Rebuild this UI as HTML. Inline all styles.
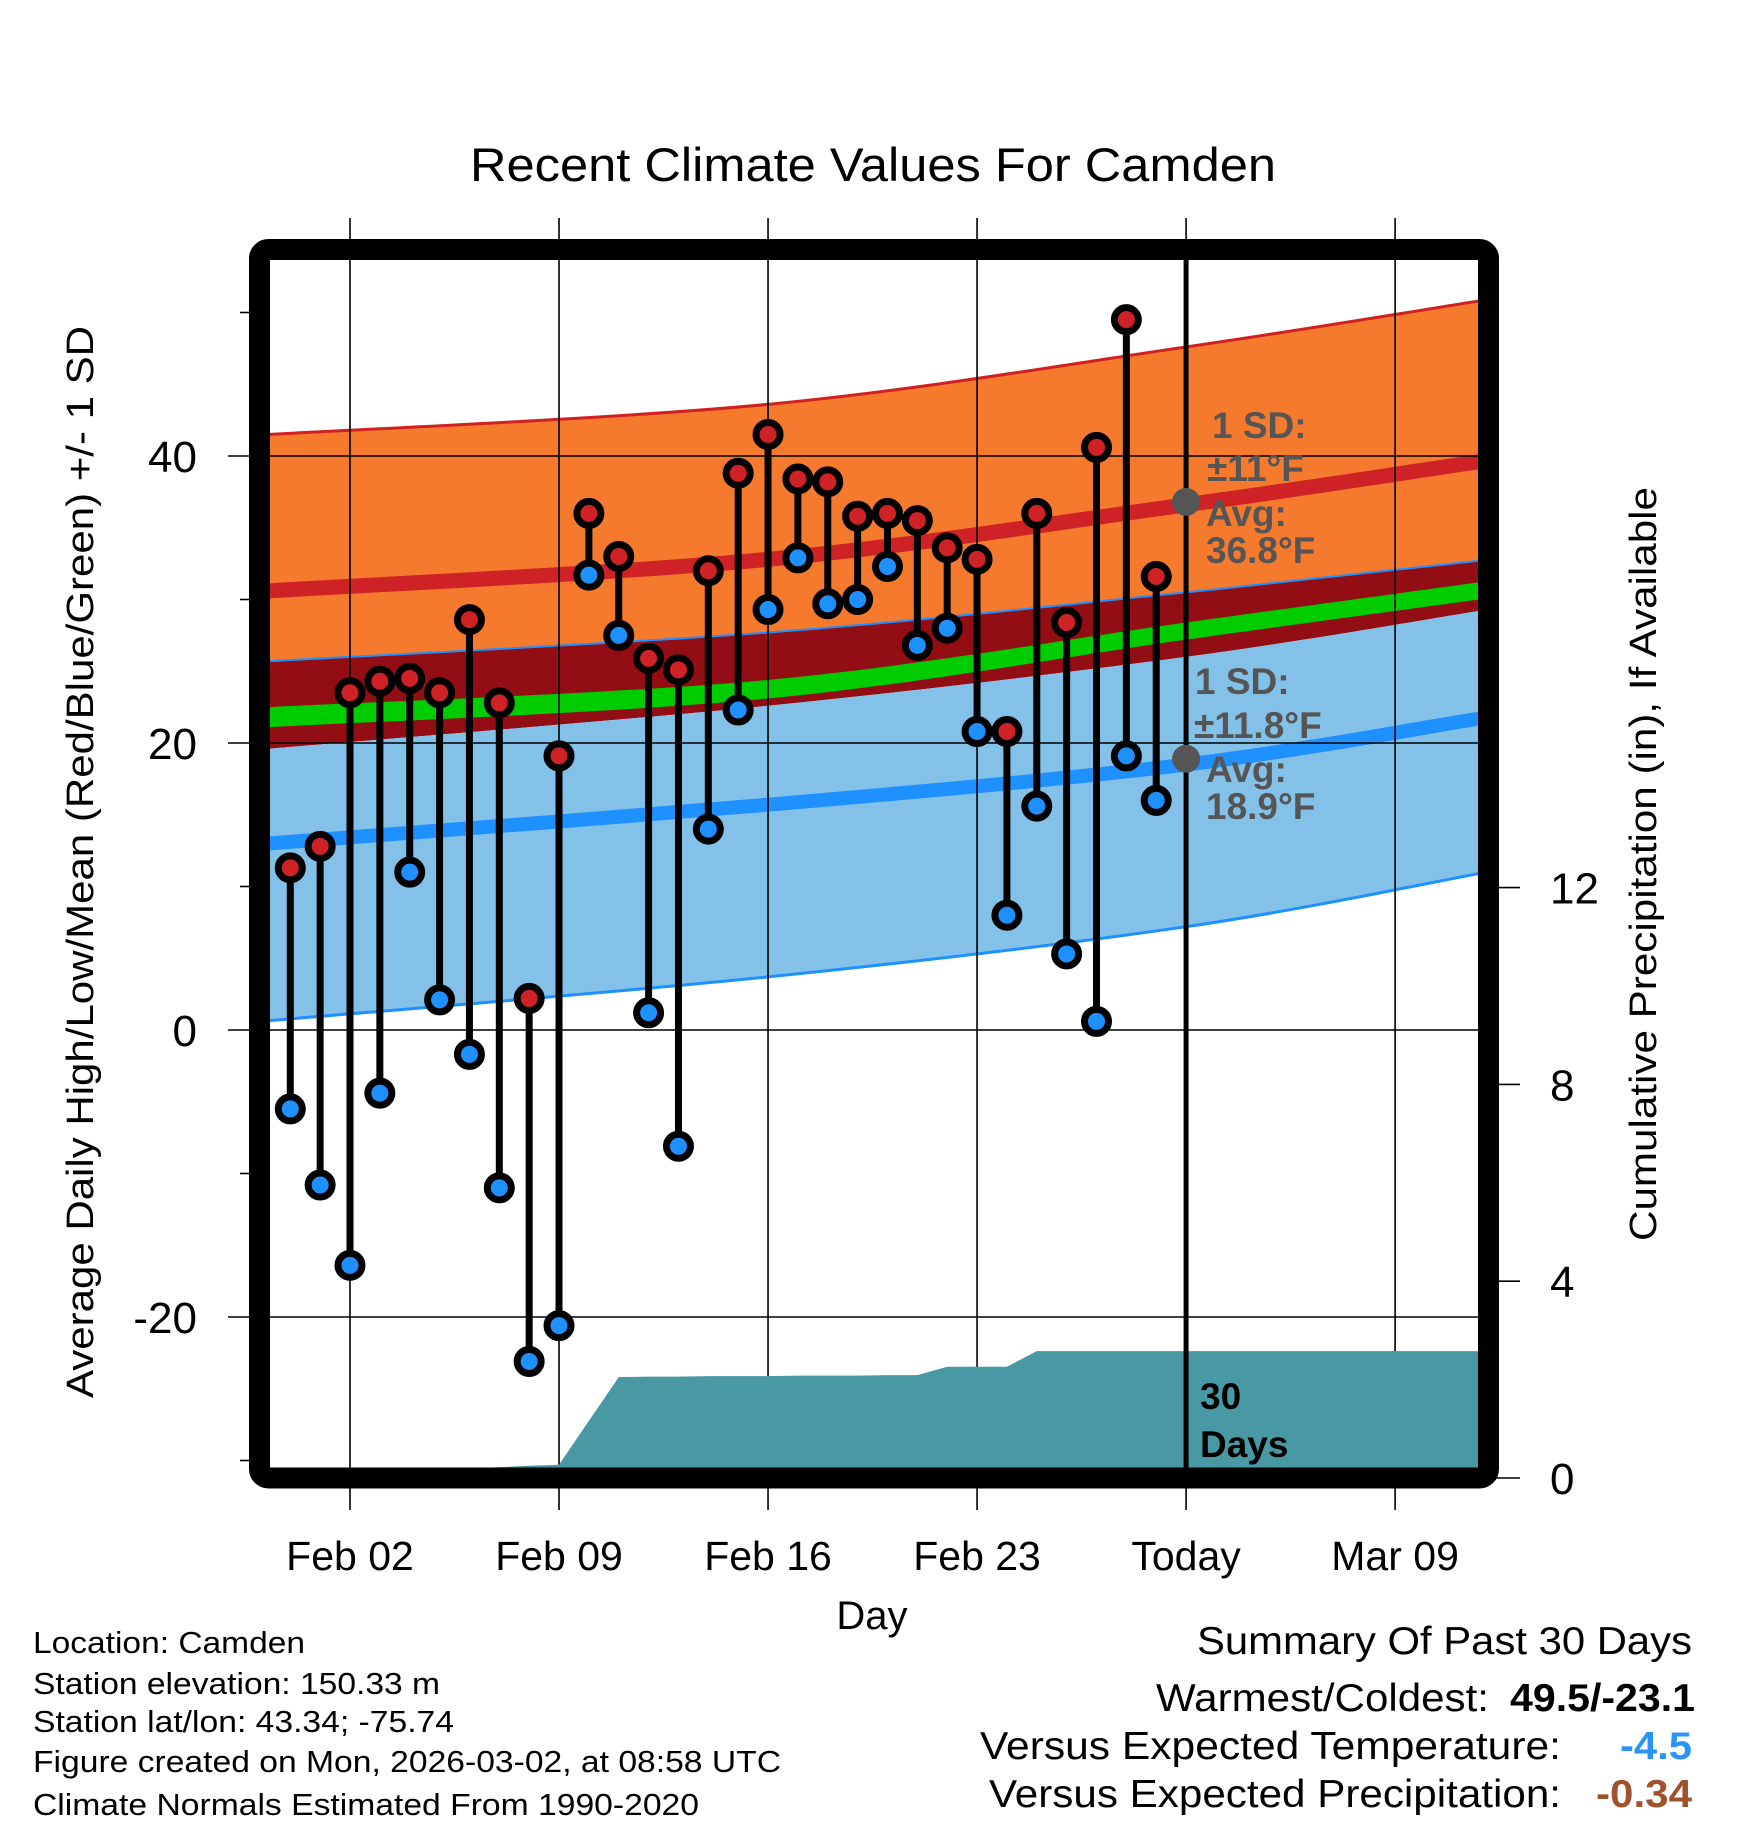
<!DOCTYPE html>
<html><head><meta charset="utf-8"><style>
html,body{margin:0;padding:0;background:#fff;}
svg{display:block;font-family:"Liberation Sans",Arial,sans-serif;}
</style></head><body>
<svg id="chart" width="1748" height="1828" viewBox="0 0 1748 1828" xmlns="http://www.w3.org/2000/svg">
<defs><clipPath id="plotclip"><rect x="270" y="260" width="1208" height="1208"/></clipPath></defs>
<rect x="0" y="0" width="1748" height="1828" fill="#fff"/>
<text x="873" y="181" font-size="47" text-anchor="middle" textLength="806" lengthAdjust="spacingAndGlyphs">Recent Climate Values For Camden</text>
<g id="bands" clip-path="url(#plotclip)"></g>
<g id="grid"></g>
<g id="marks" clip-path="url(#plotclip)"></g>
<g id="axes"></g>
<text transform="translate(93,862) rotate(-90)" font-size="38" text-anchor="middle" textLength="1072" lengthAdjust="spacingAndGlyphs">Average Daily High/Low/Mean (Red/Blue/Green) +/- 1 SD</text>
<text transform="translate(1656,864) rotate(-90)" font-size="38" text-anchor="middle" textLength="754" lengthAdjust="spacingAndGlyphs">Cumulative Precipitation (in), If Available</text>
<text x="872" y="1629" font-size="40" text-anchor="middle">Day</text>
<g font-size="31">
<text x="33" y="1653" textLength="272" lengthAdjust="spacingAndGlyphs">Location: Camden</text>
<text x="33" y="1694" textLength="407" lengthAdjust="spacingAndGlyphs">Station elevation: 150.33 m</text>
<text x="33" y="1732" textLength="421" lengthAdjust="spacingAndGlyphs">Station lat/lon: 43.34; -75.74</text>
<text x="33" y="1772" textLength="748" lengthAdjust="spacingAndGlyphs">Figure created on Mon, 2026-03-02, at 08:58 UTC</text>
<text x="33" y="1815" textLength="666" lengthAdjust="spacingAndGlyphs">Climate Normals Estimated From 1990-2020</text>
</g>
<g font-size="39">
<text x="1197" y="1654" textLength="495" lengthAdjust="spacingAndGlyphs">Summary Of Past 30 Days</text>
<text x="1156" y="1711" textLength="333" lengthAdjust="spacingAndGlyphs">Warmest/Coldest:</text>
<text x="1510" y="1711" font-weight="bold" textLength="185" lengthAdjust="spacingAndGlyphs">49.5/-23.1</text>
<text x="980" y="1759" textLength="581" lengthAdjust="spacingAndGlyphs">Versus Expected Temperature:</text>
<text x="1620" y="1759" font-weight="bold" fill="#2a93f5" textLength="72" lengthAdjust="spacingAndGlyphs">-4.5</text>
<text x="989" y="1807" textLength="572" lengthAdjust="spacingAndGlyphs">Versus Expected Precipitation:</text>
<text x="1596" y="1807" font-weight="bold" fill="#a0522d" textLength="96" lengthAdjust="spacingAndGlyphs">-0.34</text>
</g>
</svg>
<script>
// ---- data ----
const dayLabels = ["Feb 02","Feb 09","Feb 16","Feb 23","Today","Mar 09"];
const dayLabelPos = [0,7,14,21,28,35];
const obsDays = [-2,-1,0,1,2,3,4,5,6,7,8,9,10,11,12,13,14,15,16,17,18,19,20,21,22,23,24,25,26,27];
const highs = [11.3,12.8,23.5,24.3,24.5,23.5,28.6,22.8,2.2,19.1,36.0,33.0,25.9,25.1,32.0,38.8,41.5,38.4,38.2,35.8,36.0,35.5,33.6,32.8,20.8,36.0,28.4,40.6,49.5,31.6];
const lows = [-5.5,-10.8,-16.4,-4.4,11.0,2.1,-1.7,-11.0,-23.1,-20.6,31.7,27.5,1.2,-8.1,14.0,22.3,29.3,32.9,29.7,30.0,32.3,26.8,28.0,20.8,8.0,15.6,5.3,0.6,19.1,16.0];
const precip = [0,0,0,0,0,0,0.19,0.22,0.25,0.27,1.16,2.05,2.06,2.06,2.07,2.07,2.07,2.08,2.08,2.08,2.09,2.09,2.26,2.26,2.26,2.58,2.58,2.58,2.58,2.58];
const normDays = [-2.7,14,28,37.8];
const highUpper = [41.5,43.6,47.6,50.8];
const highMean = [30.6,32.8,36.6,39.6];
const highLower = [25.7,27.7,30.5,32.7];
const greenTop = [22.5,24.4,28.4,31.2];
const greenBot = [21.1,23.1,27.2,30.0];
const lowUpper = [19.6,22.6,26.0,29.2];
const lowMean = [13.0,15.7,18.5,21.7];
const lowLower = [0.65,3.7,7.2,10.9];
const tempTicks = [-20,0,20,40];
const tempMinor = [-30,-10,10,30,50];
const precipTicks = [0,4,8,12];

// ---- scales ----
const NS="http://www.w3.org/2000/svg";
const X0=350, DX=29.86;
const xs=d=>X0+d*DX;
const yt=t=>1030-14.35*t;
const yp=p=>1478-49.2*p;
function el(tag,attrs,parent){const e=document.createElementNS(NS,tag);for(const k in attrs)e.setAttribute(k,attrs[k]);parent.appendChild(e);return e;}
function curvePts(vals){return normDays.map((d,i)=>[xs(d),yt(vals[i])]);}
function smooth(pts){
  let s="M"+pts[0][0]+","+pts[0][1];
  for(let i=0;i<pts.length-1;i++){
    const p0=pts[Math.max(0,i-1)],p1=pts[i],p2=pts[i+1],p3=pts[Math.min(pts.length-1,i+2)];
    s+=" C"+(p1[0]+(p2[0]-p0[0])/6)+","+(p1[1]+(p2[1]-p0[1])/6)+" "+(p2[0]-(p3[0]-p1[0])/6)+","+(p2[1]-(p3[1]-p1[1])/6)+" "+p2[0]+","+p2[1];
  }
  return s;
}
function smoothRev(pts){const r=pts.slice().reverse();return smooth(r).replace(/^M/,' L');}
function band(top,bot,fill,name,g){
  const p=el('path',{d:smooth(curvePts(top))+smoothRev(curvePts(bot))+' Z',fill:fill},g);
  
  
}
function line(vals,stroke,w,name,g){
  const p=el('path',{d:smooth(curvePts(vals)),fill:'none',stroke:stroke,'stroke-width':w},g);
  
  
}
const bands=document.getElementById('bands');
band(highUpper,highLower,'#f57a2e','high-sd-band',bands);
band(highLower,lowUpper,'#920d14','overlap-band',bands);
band(lowUpper,lowLower,'#84c1e8','low-sd-band',bands);
band(greenTop,greenBot,'#00cc00','mean-band',bands);
line(highUpper,'#d02020',3,'high-upper-edge',bands);
line(highLower,'#1e90ff',2,'high-lower-edge',bands);
line(lowLower,'#1e90ff',3,'low-lower-edge',bands);
line(highMean,'#cf2226',15,'high-mean-line',bands);
line(lowMean,'#1e90ff',14,'low-mean-line',bands);

// grid
const grid=document.getElementById('grid');
dayLabelPos.forEach((d,i)=>{
  const l=el('line',{x1:xs(d),x2:xs(d),y1:218,y2:1510,stroke:'#000','stroke-width':1.6},grid);
  
  
  const t=el('text',{x:xs(d),y:1570,'font-size':41,'text-anchor':'middle'},grid);
  t.textContent=dayLabels[i];
  
  
});
tempTicks.forEach(v=>{
  const l=el('line',{x1:228,x2:1478,y1:yt(v),y2:yt(v),stroke:'#000','stroke-width':1.6},grid);
  
  
  const t=el('text',{x:197,y:yt(v)+16,'font-size':44,'text-anchor':'end'},grid);
  t.textContent=String(v);
  
  
});
tempMinor.forEach(v=>{
  const l=el('line',{x1:240,x2:255,y1:yt(v),y2:yt(v),stroke:'#000','stroke-width':1.6},grid);
  
  
});
precipTicks.forEach(v=>{
  const l=el('line',{x1:1490,x2:1520,y1:yp(v),y2:yp(v),stroke:'#000','stroke-width':1.6},grid);
  
  
  const t=el('text',{x:1550,y:yp(v)+16,'font-size':44},grid);
  t.textContent=String(v);
  
  
});

// marks
const marks=document.getElementById('marks');
let pd="M"+xs(obsDays[0])+","+yp(0);
obsDays.forEach((d,i)=>{pd+=" L"+xs(d)+","+yp(precip[i]);});
pd+=" L1480,"+yp(precip[precip.length-1])+" L1480,1480 L"+xs(obsDays[0])+",1480 Z";
const pp=el('path',{d:pd,fill:'#4899a3'},marks);


obsDays.forEach((d,i)=>{
  const x=xs(d);
  const s=el('line',{x1:x,x2:x,y1:yt(highs[i]),y2:yt(lows[i]),stroke:'#000','stroke-width':7},marks);
  
  
});
obsDays.forEach((d,i)=>{
  const x=xs(d);
  const h=el('circle',{cx:x,cy:yt(highs[i]),r:12,fill:'#cf2226',stroke:'#000','stroke-width':7},marks);
  
  
  const l=el('circle',{cx:x,cy:yt(lows[i]),r:12,fill:'#1e90ff',stroke:'#000','stroke-width':7},marks);
  
  
});
const tl=el('line',{x1:xs(28),x2:xs(28),y1:260,y2:1468,stroke:'#000','stroke-width':5},marks);


[[36.8,'high-avg-dot'],[18.9,'low-avg-dot']].forEach(a=>{
  const c=el('circle',{cx:xs(28),cy:yt(a[0]),r:14,fill:'#555'},marks);
  
  
});
const ann=[["1 SD:",1212,438],["±11°F",1207,481],["Avg:",1206,526],["36.8°F",1206,563],["1 SD:",1195,694],["±11.8°F",1194,738],["Avg:",1206,782],["18.9°F",1206,819]];
ann.forEach(a=>{
  const t=el('text',{x:a[1],y:a[2],'font-size':37,'font-weight':'bold',fill:'#555'},marks);
  t.textContent=a[0];
  
  
});
[["30",1200,1409],["Days",1200,1457]].forEach(a=>{
  const t=el('text',{x:a[1],y:a[2],'font-size':37,'font-weight':'bold'},marks);
  t.textContent=a[0];
  
  
});
const axes=document.getElementById('axes');
const fr=el('rect',{x:259.5,y:249.5,width:1229,height:1228.5,rx:9,fill:'none',stroke:'#000','stroke-width':21},axes);


</script>
</body></html>
